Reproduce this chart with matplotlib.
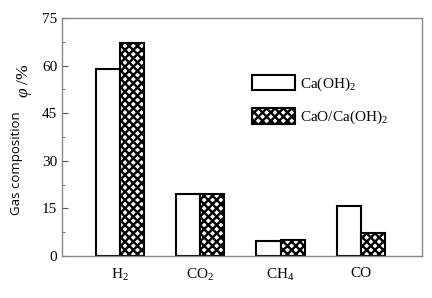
import numpy as np
import matplotlib.pyplot as plt

plt.rcParams['font.family'] = 'Liberation Serif'
plt.rcParams['mathtext.fontset'] = 'custom'
plt.rcParams['mathtext.rm'] = 'Liberation Serif'
plt.rcParams['mathtext.it'] = 'Liberation Serif:italic'
plt.rcParams['hatch.linewidth'] = 1.7

gases = ['H$_2$', 'CO$_2$', 'CH$_4$', 'CO']
caoh2 = [59.0, 19.6, 4.7, 15.8]
cao_caoh2 = [67.2, 19.6, 5.0, 7.1]
labels = ['Ca(OH)$_2$', 'CaO/Ca(OH)$_2$']

fig = plt.figure(figsize=(4.32, 2.98), dpi=100)
ax = fig.add_axes([62 / 432, 1 - 256 / 298, 360 / 432, 238 / 298])

x = np.arange(1, len(gases) + 1)
w = 0.3
ax.bar(x - w / 2, caoh2, w, facecolor='white', edgecolor='black', linewidth=1.5,
       label=labels[0])
ax.bar(x + w / 2, cao_caoh2, w, facecolor='white', edgecolor='black', linewidth=1.5,
       hatch='xxxx', label=labels[1])

ax.set_xlim(0.28, 4.76)
ax.set_ylim(0, 75)
ax.set_xticks(x)
ax.set_xticklabels(gases, fontsize=11)
ax.set_yticks(np.arange(0, 76, 15))
ax.set_yticks(np.arange(0, 76, 7.5), minor=True)
ax.tick_params(axis='y', which='both', direction='in', labelsize=11, color='#555555')
ax.tick_params(axis='y', which='major', length=4)
ax.tick_params(axis='y', which='minor', length=2)
ax.tick_params(axis='x', length=0, pad=8)
for s in ax.spines.values():
    s.set_color('#888888')
    s.set_linewidth(1.0)

ax.legend(loc='upper left', bbox_to_anchor=(0.49, 0.82), frameon=False, fontsize=11,
          handlelength=2.8, handleheight=1.2, labelspacing=1.0, handletextpad=0.3)

fig.text(17 / 432, 1 - 163 / 298, 'Gas composition', rotation=90, ha='center', va='center',
         fontsize=9.5, family='Open Sans')
fig.text(24 / 432, 1 - 81 / 298, r'$\mathit{\varphi}$ /%', rotation=90, ha='center',
         va='center', fontsize=12.5)

fig.savefig('out.png', dpi=100)
